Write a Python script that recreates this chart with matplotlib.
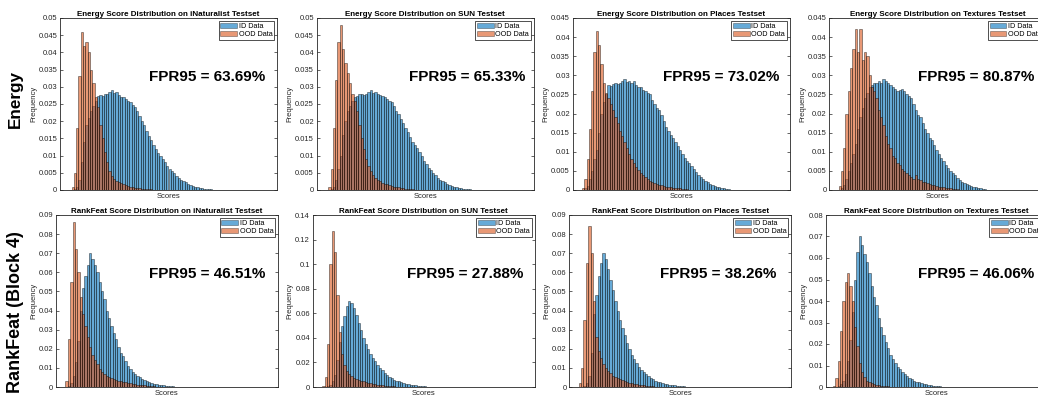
import numpy as np
import matplotlib
matplotlib.use("Agg")
import matplotlib.pyplot as plt
from matplotlib.ticker import MultipleLocator, FuncFormatter
from matplotlib.patches import Patch

plt.rcParams['font.family'] = ['Liberation Sans', 'DejaVu Sans']

datasets = ["iNaturalist", "SUN", "Places", "Textures"]
methods = ["Energy", "RankFeat"]
row_labels = ["Energy", "RankFeat (Block 4)"]
fpr95 = [[63.69, 65.33, 73.02, 80.87], [46.51, 27.88, 38.26, 46.06]]
ymax = [[0.05, 0.05, 0.045, 0.045], [0.09, 0.14, 0.09, 0.08]]
ystep = [[0.005, 0.005, 0.005, 0.005], [0.01, 0.02, 0.01, 0.01]]

# histogram bin heights (first bin index given by *_start), bin width = 1 score unit
energy_inat_id_start = 6
energy_inat_id = [0.0003,0.001,0.003,0.008,0.014,0.019,0.021,0.023,0.0245,0.026,0.0272,0.0275,0.0272,0.028,0.0278,0.0285,0.029,0.0283,0.0285,0.0275,0.027,0.027,0.0265,0.026,0.0255,0.0248,0.024,0.023,0.0215,0.020,0.019,0.0172,0.0158,0.0145,0.013,0.012,0.0108,0.0098,0.009,0.008,0.007,0.0062,0.0055,0.0049,0.0042,0.0036,0.003,0.0026,0.0022,0.0018,0.0015,0.0012,0.001,0.0008,0.0006,0.0005,0.0004,0.0003,0.0002,0.0002,0.0001]
energy_inat_ood_start = 5
energy_inat_ood = [0.0008,0.005,0.018,0.033,0.046,0.042,0.043,0.040,0.035,0.031,0.027,0.024,0.019,0.015,0.011,0.008,0.0055,0.004,0.0032,0.0026,0.0022,0.0019,0.0016,0.0014,0.0012,0.001,0.0008,0.0007,0.0006,0.0005,0.0004,0.0003,0.0003,0.0002,0.0002,0.0001]

energy_sun_id_start = 6
energy_sun_id = [0.0003,0.001,0.003,0.006,0.010,0.016,0.020,0.023,0.0245,0.026,0.027,0.0272,0.0278,0.028,0.0275,0.028,0.0285,0.029,0.0283,0.0285,0.028,0.0275,0.0272,0.027,0.0265,0.026,0.0255,0.0245,0.023,0.022,0.0205,0.0195,0.018,0.0168,0.0155,0.014,0.013,0.0122,0.011,0.0098,0.0085,0.0075,0.0065,0.0057,0.005,0.0043,0.0036,0.003,0.0026,0.0022,0.0018,0.0015,0.0012,0.001,0.0008,0.0007,0.0005,0.0004,0.0003,0.0002,0.0002,0.0001]
energy_sun_ood_start = 5
energy_sun_ood = [0.001,0.006,0.018,0.032,0.043,0.048,0.041,0.037,0.034,0.031,0.028,0.026,0.023,0.019,0.015,0.012,0.009,0.007,0.0055,0.0045,0.0035,0.003,0.0025,0.002,0.0018,0.0016,0.0014,0.0012,0.001,0.0009,0.0008,0.0006,0.0005,0.0004,0.0003,0.0002,0.0002,0.0001]

energy_places_id_start = 5
energy_places_id = [0.0005,0.001,0.003,0.005,0.008,0.0105,0.015,0.02,0.023,0.025,0.0275,0.0272,0.0278,0.028,0.0278,0.028,0.0285,0.029,0.0283,0.0285,0.028,0.0285,0.0275,0.027,0.027,0.0262,0.026,0.0255,0.025,0.0235,0.0225,0.0215,0.021,0.0195,0.018,0.0165,0.0155,0.0145,0.0135,0.0125,0.0115,0.0105,0.0095,0.0085,0.0077,0.007,0.0062,0.0055,0.0047,0.004,0.0034,0.0029,0.0024,0.002,0.0016,0.0013,0.0011,0.0009,0.0007,0.0005,0.0004,0.0003,0.0002,0.0001]
energy_places_ood_start = 4
energy_places_ood = [0.0005,0.003,0.008,0.016,0.026,0.036,0.0415,0.038,0.033,0.028,0.0255,0.024,0.0225,0.021,0.019,0.0175,0.0155,0.014,0.0125,0.011,0.0095,0.0082,0.007,0.006,0.0052,0.0045,0.0038,0.0033,0.0028,0.0024,0.0021,0.0018,0.0016,0.0014,0.0012,0.001,0.0009,0.0008,0.0007,0.0006,0.0005,0.0004,0.0004,0.0003,0.0002,0.0002,0.0001]

energy_textures_id_start = 5
energy_textures_id = [0.0005,0.0012,0.003,0.005,0.007,0.0095,0.012,0.016,0.019,0.0215,0.024,0.0255,0.027,0.0275,0.028,0.028,0.0285,0.028,0.029,0.0285,0.028,0.0275,0.027,0.0265,0.026,0.0262,0.0265,0.026,0.025,0.0245,0.024,0.0225,0.021,0.0195,0.019,0.0175,0.016,0.015,0.0135,0.013,0.0118,0.0105,0.0095,0.0085,0.0075,0.0065,0.0058,0.005,0.0045,0.0038,0.0032,0.0027,0.0022,0.0019,0.0016,0.0013,0.001,0.0008,0.0007,0.0005,0.0004,0.0003,0.0002,0.0001]
energy_textures_ood_start = 4
energy_textures_ood = [0.001,0.005,0.011,0.02,0.026,0.032,0.037,0.042,0.036,0.042,0.034,0.036,0.035,0.030,0.027,0.026,0.024,0.021,0.019,0.017,0.014,0.012,0.011,0.009,0.0085,0.007,0.0065,0.0055,0.005,0.0045,0.004,0.0035,0.003,0.0038,0.0028,0.0025,0.0022,0.002,0.0018,0.0016,0.0014,0.0012,0.001,0.0009,0.0008,0.0007,0.0006,0.0005,0.0004,0.0003,0.0003,0.0002,0.0001]

rankfeat_inat_id_start = 5
rankfeat_inat_id = [0.0005,0.002,0.006,0.013,0.024,0.04,0.052,0.058,0.064,0.07,0.067,0.064,0.06,0.055,0.05,0.046,0.04,0.036,0.032,0.028,0.025,0.021,0.018,0.016,0.0135,0.011,0.0095,0.008,0.0068,0.0058,0.005,0.0043,0.0036,0.003,0.0026,0.0022,0.0018,0.0015,0.0012,0.001,0.0008,0.0006,0.0005,0.0004,0.0003,0.0002,0.0002,0.0001]
rankfeat_inat_ood_start = 4
rankfeat_inat_ood = [0.003,0.025,0.055,0.0865,0.072,0.06,0.047,0.038,0.032,0.026,0.021,0.017,0.014,0.012,0.0095,0.008,0.007,0.006,0.0052,0.0046,0.004,0.0036,0.0032,0.003,0.0027,0.0024,0.0022,0.002,0.0017,0.0015,0.0013,0.0011,0.0009,0.0008,0.0006,0.0005,0.0004,0.0003,0.0002,0.0001]

rankfeat_sun_id_start = 6
rankfeat_sun_id = [0.0005,0.002,0.005,0.01,0.022,0.037,0.05,0.058,0.066,0.07,0.068,0.064,0.059,0.052,0.046,0.04,0.035,0.031,0.027,0.024,0.021,0.018,0.0155,0.0135,0.0115,0.0098,0.0084,0.0072,0.0061,0.0052,0.0045,0.0038,0.0032,0.0027,0.0023,0.0019,0.0016,0.0013,0.0011,0.0009,0.0007,0.0005,0.0004,0.0003,0.0002,0.0001]
rankfeat_sun_ood_start = 4
rankfeat_sun_ood = [0.001,0.008,0.035,0.1,0.127,0.11,0.075,0.045,0.027,0.018,0.013,0.0105,0.009,0.0075,0.0065,0.0058,0.005,0.0045,0.004,0.0035,0.003,0.0026,0.0022,0.002,0.0017,0.0015,0.0012,0.001,0.0008,0.0007,0.0005,0.0004,0.0003,0.0002,0.0001]

rankfeat_places_id_start = 6
rankfeat_places_id = [0.0005,0.002,0.006,0.018,0.038,0.048,0.058,0.065,0.07,0.067,0.062,0.056,0.051,0.045,0.04,0.035,0.031,0.027,0.023,0.02,0.017,0.0145,0.0125,0.0105,0.009,0.0077,0.0066,0.0056,0.0047,0.004,0.0034,0.0028,0.0024,0.002,0.0017,0.0014,0.0012,0.001,0.0008,0.0006,0.0005,0.0004,0.0003,0.0002,0.0001]
rankfeat_places_ood_start = 4
rankfeat_places_ood = [0.002,0.01,0.035,0.065,0.0845,0.07,0.045,0.026,0.019,0.015,0.012,0.01,0.0085,0.0072,0.006,0.0052,0.0045,0.004,0.0035,0.003,0.0026,0.0022,0.0019,0.0016,0.0014,0.0012,0.001,0.0008,0.0007,0.0005,0.0004,0.0003,0.0002,0.0001]

rankfeat_textures_id_start = 5
rankfeat_textures_id = [0.0005,0.0015,0.003,0.006,0.012,0.022,0.035,0.05,0.063,0.07,0.066,0.062,0.058,0.053,0.047,0.042,0.038,0.032,0.028,0.024,0.021,0.018,0.015,0.013,0.011,0.0095,0.0082,0.007,0.006,0.005,0.0043,0.0036,0.003,0.0025,0.0021,0.0018,0.0015,0.0012,0.001,0.0008,0.0006,0.0005,0.0004,0.0003,0.0002,0.0001]
rankfeat_textures_ood_start = 3
rankfeat_textures_ood = [0.0005,0.004,0.012,0.026,0.04,0.049,0.053,0.047,0.04,0.028,0.019,0.011,0.007,0.0045,0.003,0.0022,0.0017,0.0013,0.001,0.0008,0.0006,0.0005,0.0004,0.0003,0.0002,0.0001]

hist_id = [
    [(energy_inat_id_start, energy_inat_id), (energy_sun_id_start, energy_sun_id),
     (energy_places_id_start, energy_places_id), (energy_textures_id_start, energy_textures_id)],
    [(rankfeat_inat_id_start, rankfeat_inat_id), (rankfeat_sun_id_start, rankfeat_sun_id),
     (rankfeat_places_id_start, rankfeat_places_id), (rankfeat_textures_id_start, rankfeat_textures_id)],
]
hist_ood = [
    [(energy_inat_ood_start, energy_inat_ood), (energy_sun_ood_start, energy_sun_ood),
     (energy_places_ood_start, energy_places_ood), (energy_textures_ood_start, energy_textures_ood)],
    [(rankfeat_inat_ood_start, rankfeat_inat_ood), (rankfeat_sun_ood_start, rankfeat_sun_ood),
     (rankfeat_places_ood_start, rankfeat_places_ood), (rankfeat_textures_ood_start, rankfeat_textures_ood)],
]

W, H = 1038, 398
fig = plt.figure(figsize=(W / 100, H / 100), dpi=100)

blue = (0.0, 0.447, 0.741, 0.6)
orange = (0.85, 0.325, 0.098, 0.6)
edge = (0.0, 0.0, 0.0, 0.55)
axcol = (0.15, 0.15, 0.15)

row_geom = [
    dict(lefts=[60, 316.7, 572.7, 829.3], width=217, top=18, bottom=190),
    dict(lefts=[56, 312.7, 569.3, 825.7], width=222, top=215, bottom=387),
]
fpr_x = [[0.41, 0.424, 0.415, 0.41], [0.418, 0.423, 0.409, 0.417]]

fmt = FuncFormatter(lambda v, p: "0" if abs(v) < 1e-12 else ("%g" % round(v, 6)))

for r in range(2):
    g = row_geom[r]
    for c in range(4):
        ax = fig.add_axes([g['lefts'][c] / W, (H - g['bottom']) / H, g['width'] / W,
                           (g['bottom'] - g['top']) / H])
        s_id, v_id = hist_id[r][c]
        s_ood, v_ood = hist_ood[r][c]
        x_id = s_id + np.arange(len(v_id))
        x_ood = s_ood + np.arange(len(v_ood))
        ax.bar(x_id, v_id, width=1.0, align='edge', facecolor=blue, edgecolor=edge, linewidth=0.5)
        ax.bar(x_ood, v_ood, width=1.0, align='edge', facecolor=orange, edgecolor=edge, linewidth=0.5)
        ax.set_xlim(0, 94)
        ax.set_ylim(0, ymax[r][c])
        ax.yaxis.set_major_locator(MultipleLocator(ystep[r][c]))
        ax.yaxis.set_major_formatter(fmt)
        ax.set_xticks([])
        ax.tick_params(axis='y', direction='in', length=2, width=0.5, labelsize=5.5,
                       colors=axcol, right=True, pad=2)
        for sp in ax.spines.values():
            sp.set_color(axcol)
            sp.set_linewidth(0.6)
        ax.set_title(f"{methods[r]} Score Distribution on {datasets[c]} Testset",
                     fontsize=5.8, fontweight='bold', pad=1.5, color='black')
        ax.set_xlabel("Scores", fontsize=5.5, labelpad=2, color=axcol)
        ax.set_ylabel("Frequency", fontsize=5.5, labelpad=1, color=axcol)
        ax.text(fpr_x[r][c], 0.657, f"FPR95 = {fpr95[r][c]:.2f}%", transform=ax.transAxes,
                ha='left', va='center', fontsize=11, fontweight='bold')
        handles = [Patch(facecolor=blue, edgecolor=edge, linewidth=0.4, label='ID Data'),
                   Patch(facecolor=orange, edgecolor=edge, linewidth=0.4, label='OOD Data')]
        leg = ax.legend(handles=handles, loc='upper right', fontsize=5.2, frameon=True,
                        fancybox=False, borderpad=0.25, handlelength=2.3, handleheight=0.8,
                        handletextpad=0.2, labelspacing=0.1, borderaxespad=0.4)
        leg.get_frame().set_edgecolor('black')
        leg.get_frame().set_linewidth(0.6)

fig.text(15.5 / W, 1 - 99 / H, row_labels[0], rotation=90, ha='center', va='center',
         fontsize=12.3, fontweight='bold')
fig.text(15.5 / W, 1 - 312 / H, row_labels[1], rotation=90, ha='center', va='center',
         fontsize=13, fontweight='bold')

fig.savefig("out.png", dpi=100)
